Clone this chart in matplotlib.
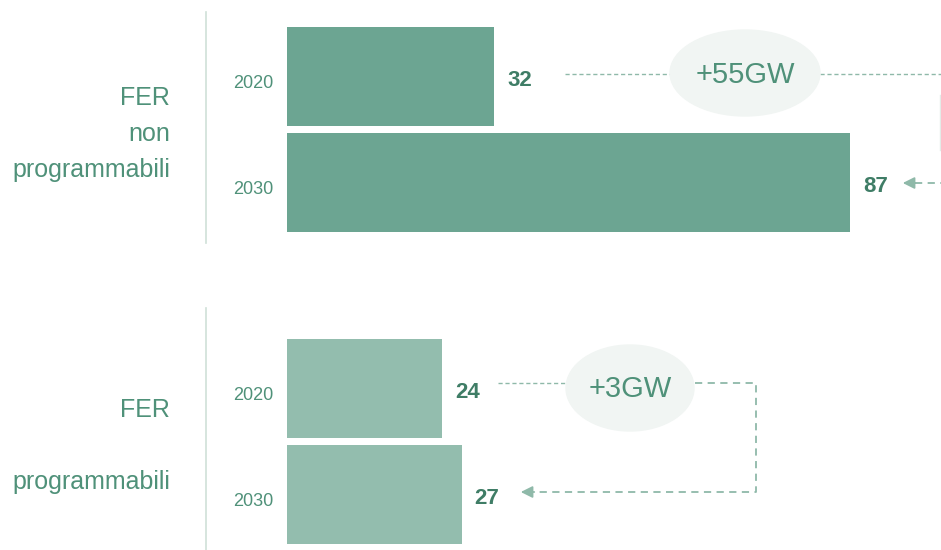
import matplotlib
matplotlib.use("Agg")
import matplotlib.pyplot as plt
from matplotlib.patches import Ellipse

# data
groups = ["FER\nnon\nprogrammabili", "FER\n\nprogrammabili"]
years = ["2020", "2030"]
values = [[32, 87], [24, 27]]
deltas = ["+55GW", "+3GW"]

bar_cols = ["#6ca592", "#93bdae"]
txt_col = "#4f9179"
val_col = "#3f7d66"
dash_col = "#8fb9a9"
fam = ["Liberation Sans", "DejaVu Sans"]

fig = plt.figure(figsize=(9.41, 5.5), dpi=100)
ax = fig.add_axes([0, 0, 1, 1])
scale = 6.47  # px per GW
ax.set_xlim(-287 / scale, (941 - 287) / scale)
ax.set_ylim(550, 0)
ax.axis("off")

def px(x):
    return (x - 287) / scale

row_y = [[76, 182], [388, 494]]
bar_h = 99
sep = [(12, 243), (308, 550)]
grp_y = [134, 446]

for g in range(2):
    for i in range(2):
        v = values[g][i]
        y = row_y[g][i]
        ax.barh(y, v, height=bar_h, left=0, color=bar_cols[g])
        ax.text(px(253), y + 7, years[i], ha="center", va="center",
                fontsize=13, color=txt_col, family=fam)
        ax.text(v + 2, y + 5, str(v), ha="left", va="center",
                fontsize=16, fontweight="bold", color=val_col, family=fam)
    ax.plot([px(206), px(206)], sep[g], color="#cfe0d8", lw=1.2)
    ax.text(px(170), grp_y[g], groups[g], ha="right", va="center",
            fontsize=18, color=txt_col, family=fam, linespacing=1.62)

# top connector
y0 = 74
ax.plot([px(565), px(670)], [y0, y0], ls=(0, (3, 2)), color=dash_col, lw=1)
ax.plot([px(820), px(941)], [y0, y0], ls=(0, (3, 2)), color=dash_col, lw=1)
ax.plot([px(940), px(940)], [95, 150], color="#e3ece8", lw=1)
ax.plot([px(915), px(945)], [183, 183], ls=(0, (4, 3)), color=dash_col, lw=1.3)
ax.annotate("", xy=(px(900), 183), xytext=(px(918), 183),
            arrowprops=dict(arrowstyle="-|>,head_length=0.7,head_width=0.35",
                            color=dash_col, lw=1.3))
ax.add_patch(Ellipse((px(745), 73), 150 / scale, 86, color="#f1f5f3", zorder=2))
ax.text(px(745), 75, deltas[0], ha="center", va="center", fontsize=21,
        color=txt_col, zorder=3, family=fam)

# bottom connector
y1 = 383
ax.plot([px(498), px(568)], [y1, y1], ls=(0, (3, 2)), color=dash_col, lw=1)
ax.plot([px(695), px(756), px(756), px(535)], [y1, y1, 492, 492],
        ls=(0, (4, 3)), color=dash_col, lw=1.3)
ax.annotate("", xy=(px(518), 492), xytext=(px(537), 492),
            arrowprops=dict(arrowstyle="-|>,head_length=0.7,head_width=0.35",
                            color=dash_col, lw=1.3))
ax.add_patch(Ellipse((px(630), 388), 128 / scale, 86, color="#f1f5f3", zorder=2))
ax.text(px(630), 389, deltas[1], ha="center", va="center", fontsize=21,
        color=txt_col, zorder=3, family=fam)

fig.savefig("out.png", dpi=100)
